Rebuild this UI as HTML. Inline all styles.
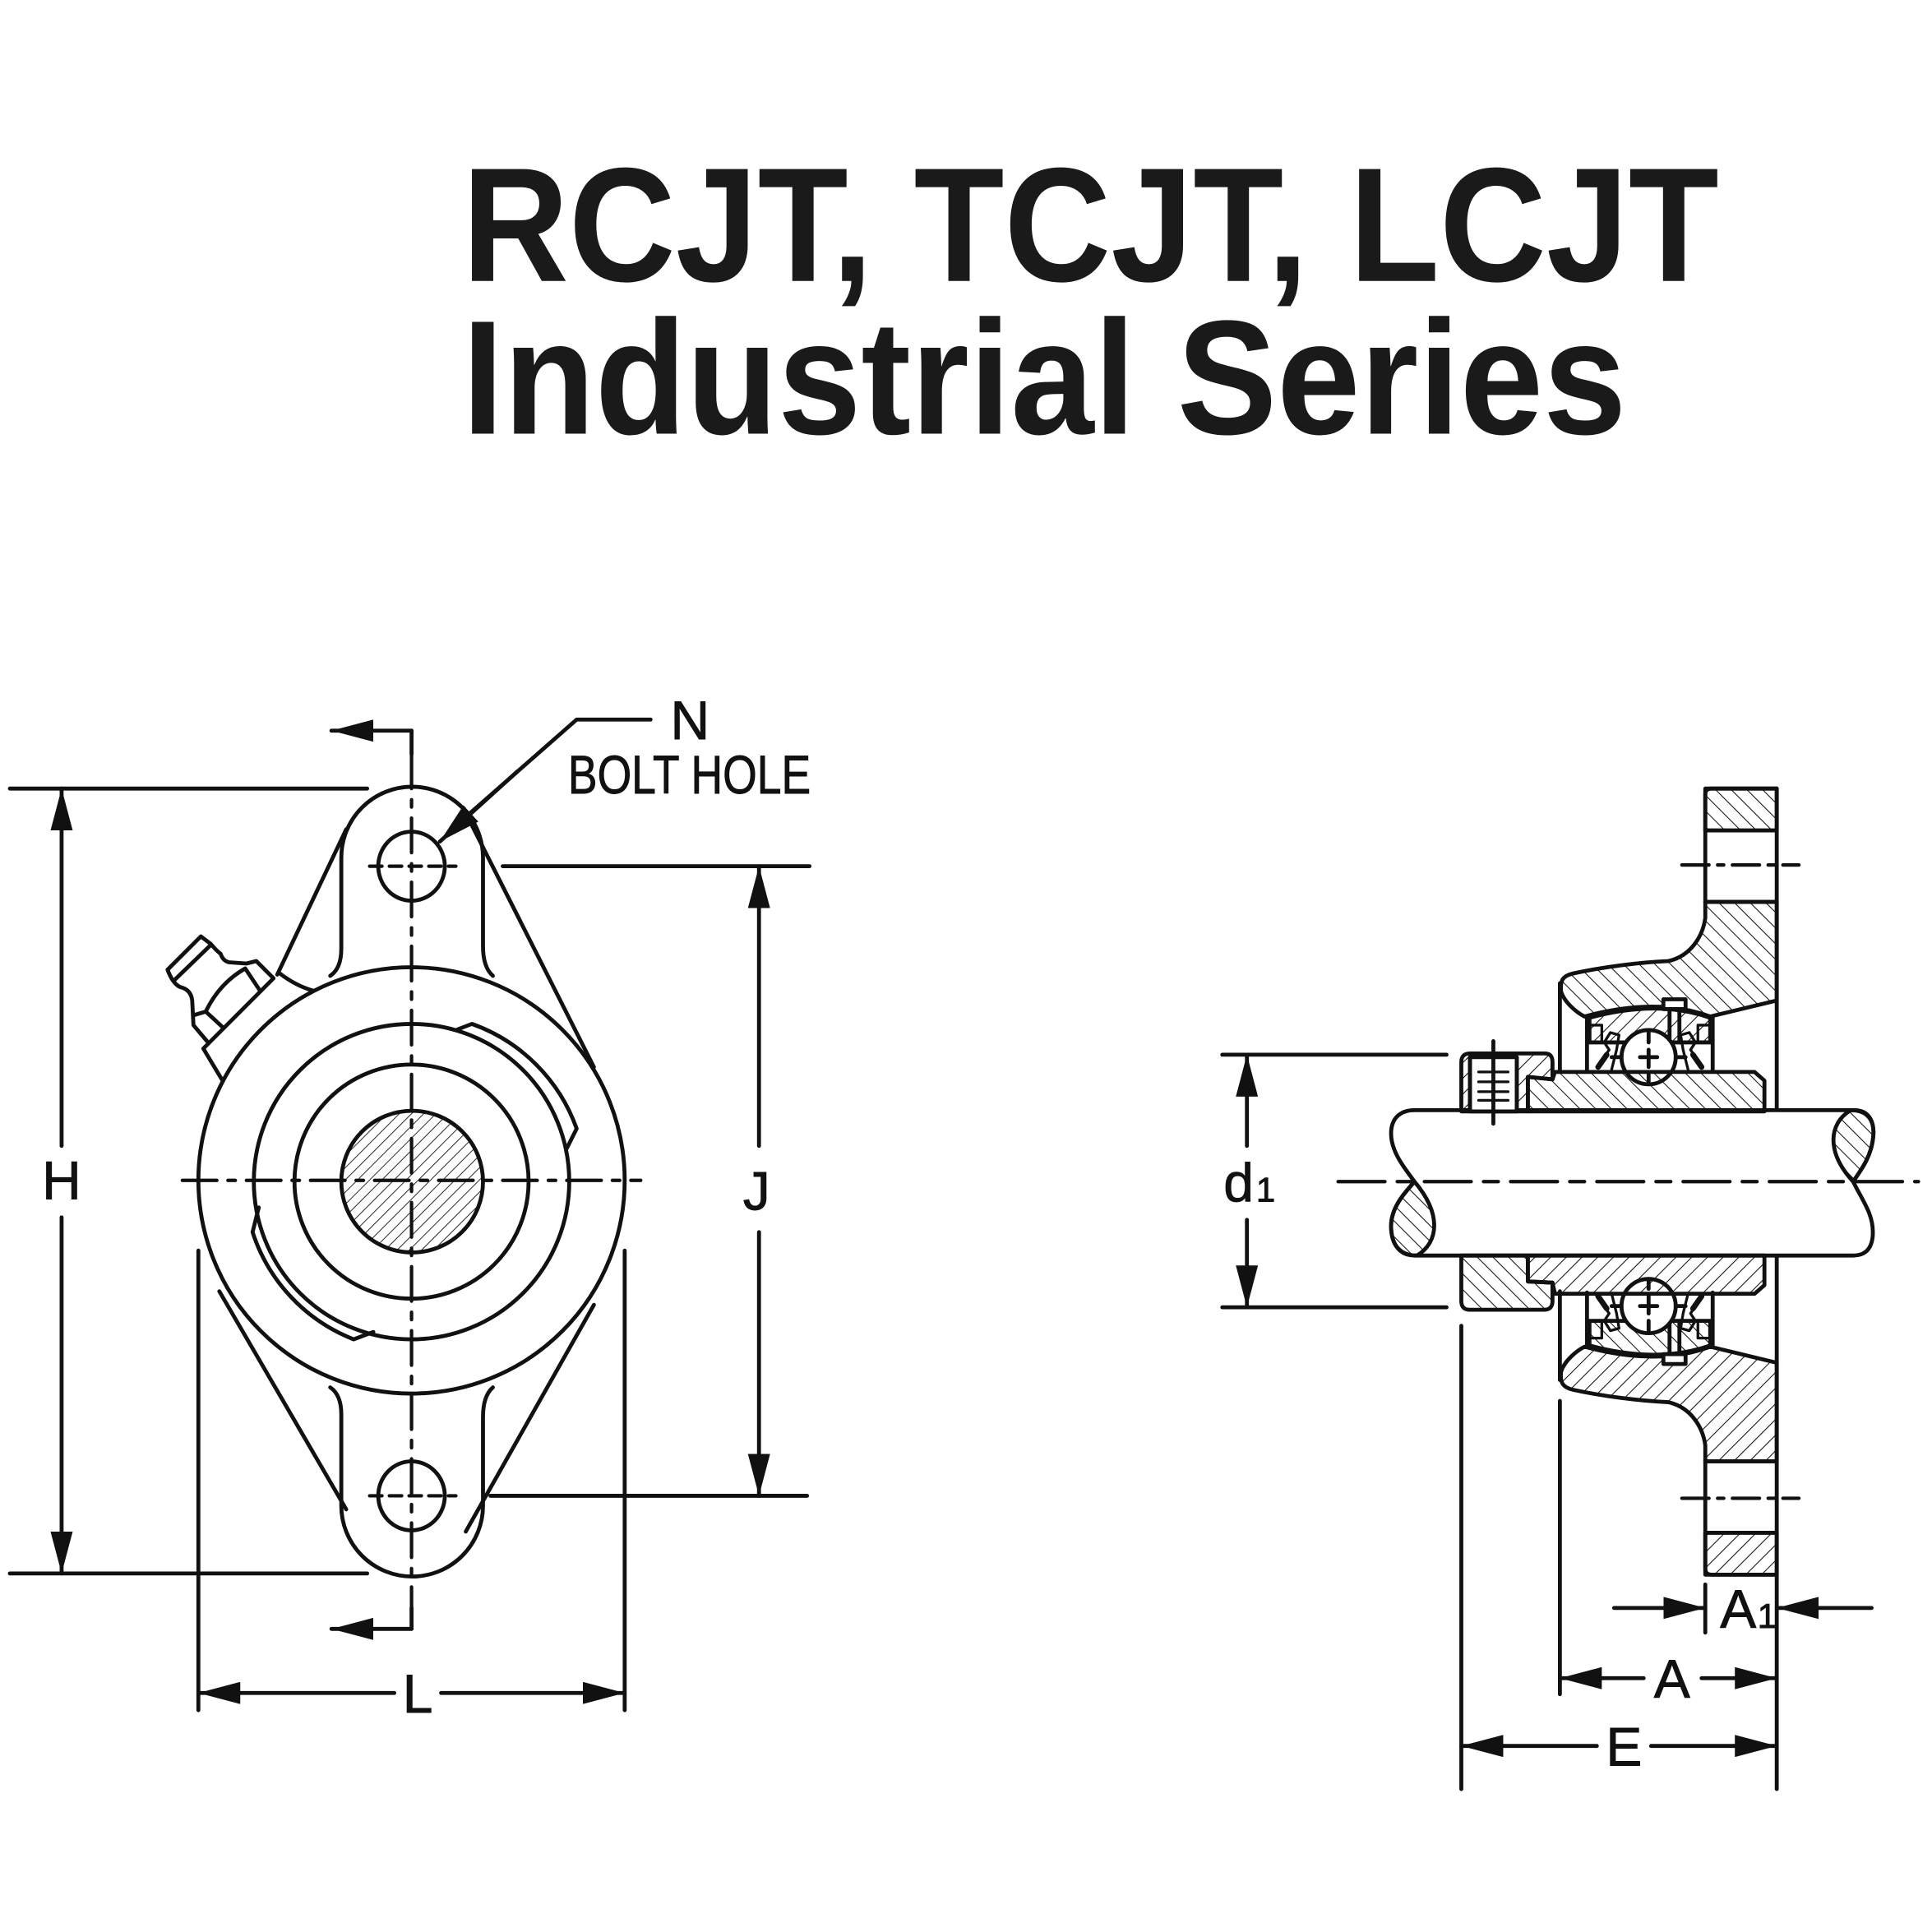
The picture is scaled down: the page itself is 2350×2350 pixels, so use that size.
<!DOCTYPE html>
<html><head><meta charset="utf-8"><style>html,body{margin:0;padding:0;background:#fff}svg{display:block}</style></head>
<body>
<svg xmlns="http://www.w3.org/2000/svg" width="2350" height="2350" viewBox="0 0 1568 1568">
<defs>
<pattern id="hb" width="9" height="9" patternUnits="userSpaceOnUse" patternTransform="rotate(-45)"><line x1="0" y1="0" x2="0" y2="9" stroke="#111" stroke-width="1.4"/></pattern>
<pattern id="hf" width="9" height="9" patternUnits="userSpaceOnUse" patternTransform="rotate(45)"><line x1="0" y1="0" x2="0" y2="9" stroke="#111" stroke-width="1.4"/></pattern>
<pattern id="hs" width="7" height="7" patternUnits="userSpaceOnUse" patternTransform="rotate(45)"><line x1="0" y1="0" x2="0" y2="7" stroke="#111" stroke-width="1.2"/></pattern>
<marker id="ar" viewBox="0 0 34 18" refX="34" refY="9" markerWidth="34" markerHeight="18" orient="auto-start-reverse" markerUnits="userSpaceOnUse"><path d="M0,0 L34,9 L0,18 Z" fill="#111"/></marker>
</defs>
<rect width="1568" height="1568" fill="#fff"/>
<g font-family="Liberation Sans, Arial, sans-serif" font-weight="bold" fill="#1a1a1a" font-size="132">
<text x="375" y="228" textLength="1020" lengthAdjust="spacingAndGlyphs">RCJT, TCJT, LCJT</text>
<text x="375" y="352" textLength="945" lengthAdjust="spacingAndGlyphs">Industrial Series</text>
</g>

<g stroke="#111" stroke-width="3.2" fill="none" stroke-linecap="round" stroke-linejoin="round">
<line x1="281" y1="673" x2="225" y2="791"/>
<line x1="376" y1="656" x2="482" y2="866"/>
<line x1="178" y1="1048" x2="281" y2="1225"/>
<line x1="482" y1="1059" x2="378" y2="1243"/>
<path d="M268,792 Q277,786 277,770 L277,696 A57.5,57.5 0 0 1 392,696 L392,768 Q392,785 400,792"/>
<path d="M268,1126 Q277,1132 277,1148 L277,1222 A57.5,57.5 0 0 0 392,1222 L392,1150 Q392,1133 400,1126"/>
<ellipse cx="334" cy="703" rx="27" ry="28"/>
<ellipse cx="334" cy="1214" rx="27" ry="28"/>
<circle cx="334" cy="958" r="173" fill="#fff"/>
<circle cx="334" cy="959" r="128"/>
<circle cx="334" cy="959" r="95"/>
<circle cx="334.5" cy="959" r="57.5" fill="url(#hs)"/>
<path d="M370,836 L383,831 A140,140 0 0 1 468,916 L460,932"/>
<path d="M210,980 L205,1000 A140,140 0 0 0 287,1087 L303,1081"/>
<path d="M136,787 L163,760 L171,766 Q176,772 179,774 Q181,780 186,781 L200,782 L208,780 L222,794 L165,851 L180,876"/>
<path d="M136,787 Q140,798 146,801 Q155,803 156,812 L157,832 L168,845"/>
<line x1="142" y1="795" x2="171" y2="767"/>
<path d="M157,824 L167,821 Q178,798 199,786 L211,804"/>
<line x1="167" y1="821" x2="180" y2="833"/>
<path d="M227,790 Q240,800 254,804"/>
<line x1="334" y1="593" x2="334" y2="612"/>
<line x1="334" y1="593" x2="269" y2="593" marker-end="url(#ar)"/>
<line x1="334" y1="1322" x2="334" y2="1305"/>
<line x1="334" y1="1322" x2="269" y2="1322" marker-end="url(#ar)"/>
<line x1="334" y1="612" x2="334" y2="1305" stroke-dasharray="28,9,6,9" stroke-width="2.8"/>
<line x1="148" y1="958" x2="520" y2="958" stroke-dasharray="28,9,6,9" stroke-width="2.8"/>
<line x1="300" y1="703" x2="370" y2="703" stroke-dasharray="10,6" stroke-width="2.8"/>
<line x1="300" y1="1214" x2="370" y2="1214" stroke-dasharray="10,6" stroke-width="2.8"/>
<line x1="8" y1="640" x2="298" y2="640"/>
<line x1="8" y1="1277" x2="298" y2="1277"/>
<line x1="50" y1="930" x2="50" y2="640" marker-end="url(#ar)"/>
<line x1="50" y1="988" x2="50" y2="1277" marker-end="url(#ar)"/>
<line x1="408" y1="703" x2="657" y2="703"/>
<line x1="398" y1="1214" x2="655" y2="1214"/>
<line x1="616" y1="930" x2="616" y2="703" marker-end="url(#ar)"/>
<line x1="616" y1="1000" x2="616" y2="1214" marker-end="url(#ar)"/>
<line x1="161" y1="1015" x2="161" y2="1388"/>
<line x1="507" y1="1015" x2="507" y2="1388"/>
<line x1="320" y1="1374" x2="161" y2="1374" marker-end="url(#ar)"/>
<line x1="358" y1="1374" x2="507" y2="1374" marker-end="url(#ar)"/>
<polyline points="528,584 468,584 370,670"/>
<line x1="420" y1="626" x2="357" y2="683" marker-end="url(#ar)"/>

<g id="half">
<rect x="1384" y="640" width="58" height="34" fill="url(#hb)"/>
<line x1="1384" y1="674" x2="1442" y2="674"/>
<line x1="1384" y1="732" x2="1442" y2="732"/>
<path d="M1384,732 L1384,745 C1382,760 1372,776 1354,780 C1330,781 1300,785 1277,790 C1268,792 1266,796 1267,805 C1270,814 1280,822 1286,825 Q1345,809 1388,825 L1442,812 L1442,732 Z" fill="url(#hb)"/>
<path d="M1384,732 L1384,645 Q1384,640 1389,640 L1442,640"/>
<path d="M1290,826 Q1345,811 1388,826 L1388,846 L1290,846 Z" fill="url(#hf)"/>
<line x1="1288" y1="825" x2="1288" y2="869"/>
<line x1="1390" y1="825" x2="1390" y2="869"/>
<rect x="1350" y="811" width="18" height="8" fill="#fff"/>
<line x1="1355" y1="819" x2="1355" y2="846"/>
<line x1="1363" y1="819" x2="1363" y2="846"/>
<path d="M1296,866 L1306,852 L1302,846 L1307,838 L1314,840 L1312,852 L1308,868" stroke-width="2.2"/>
<path d="M1292,832 L1300,832 L1300,846" stroke-width="2.2"/>
<path d="M1382,866 L1372,852 L1376,846 L1371,838 L1364,840 L1366,852 L1370,868" stroke-width="2.2"/>
<path d="M1386,832 L1378,832 L1378,846" stroke-width="2.2"/>
<path d="M1297,866 L1304,856" stroke-width="4.5"/>
<path d="M1381,866 L1374,856" stroke-width="4.5"/>
<circle cx="1338" cy="858" r="22" fill="#fff"/>
<line x1="1338" y1="838" x2="1338" y2="846"/><line x1="1338" y1="852" x2="1338" y2="866"/><line x1="1338" y1="872" x2="1338" y2="880"/>
<line x1="1331" y1="858" x2="1345" y2="858"/>
<line x1="1308" y1="858" x2="1316" y2="858"/><line x1="1360" y1="858" x2="1368" y2="858"/>
<line x1="1266" y1="798" x2="1266" y2="870"/>
<line x1="1365" y1="702" x2="1460" y2="702" stroke-dasharray="22,7,5,7" stroke-width="2.8"/>
</g>
<use href="#half" transform="matrix(1 0 0 -1 0 1918)"/>
<line x1="1442" y1="640" x2="1442" y2="1278"/>

<path d="M1148,901 L1505,901 C1518,901 1522,912 1520,925 C1518,940 1510,950 1504,959 C1512,975 1520,985 1520,1000 C1520,1012 1515,1019 1504,1019 L1148,1019 C1136,1019 1129,1010 1129,995 C1129,980 1140,968 1148,959 C1140,948 1129,935 1129,920 C1129,908 1136,901 1148,901 Z" fill="#fff"/>
<path d="M1504,959 C1510,950 1518,940 1520,925 C1522,912 1518,901 1502,901 C1484,912 1482,935 1504,959 Z" fill="url(#hb)"/>
<path d="M1148,959 C1140,968 1129,980 1129,995 C1129,1010 1136,1019 1150,1019 C1168,1008 1170,985 1148,959 Z" fill="url(#hb)"/>
<line x1="1086" y1="959" x2="1557" y2="959" stroke-dasharray="38,10,12,10" stroke-width="2.8"/>

<path d="M1240,902 L1240,874 L1260,876 L1262,870 L1424,870 L1432,877 L1432,902 Z" fill="url(#hb)"/>
<path d="M1186,902 L1186,862 Q1186,855 1193,855 L1254,855 Q1260,855 1260,862 L1260,876 L1240,874 L1240,902 Z" fill="url(#hf)"/>
<rect x="1193" y="858" width="38" height="44" fill="#fff"/>
<line x1="1193" y1="858" x2="1193" y2="902"/><line x1="1231" y1="858" x2="1231" y2="902"/>
<line x1="1200" y1="870" x2="1224" y2="870" stroke-width="2.2"/>
<line x1="1200" y1="878" x2="1224" y2="878" stroke-width="2.2"/>
<line x1="1200" y1="886" x2="1224" y2="886" stroke-width="2.2"/>
<line x1="1200" y1="893" x2="1224" y2="893" stroke-width="2.2"/>
<line x1="1212" y1="845" x2="1212" y2="912"/>
<path d="M1240,1019 L1432,1019 L1432,1043 L1424,1050 L1262,1050 L1260,1041 L1240,1040 Z" fill="url(#hf)"/>
<path d="M1186,1019 L1240,1019 L1240,1040 L1260,1041 L1260,1056 Q1260,1063 1253,1063 L1193,1063 Q1186,1063 1186,1056 Z" fill="url(#hb)"/>

<line x1="992" y1="856" x2="1174" y2="856"/>
<line x1="992" y1="1061" x2="1174" y2="1061"/>
<line x1="1012" y1="930" x2="1012" y2="856" marker-end="url(#ar)"/>
<line x1="1012" y1="990" x2="1012" y2="1061" marker-end="url(#ar)"/>
<line x1="1186" y1="1076" x2="1186" y2="1452"/>
<line x1="1266" y1="1137" x2="1266" y2="1375"/>
<line x1="1384" y1="1286" x2="1384" y2="1325"/>
<line x1="1442" y1="1278" x2="1442" y2="1452"/>
<line x1="1310" y1="1305" x2="1384" y2="1305" marker-end="url(#ar)"/>
<line x1="1519" y1="1305" x2="1442" y2="1305" marker-end="url(#ar)"/>
<line x1="1334" y1="1362" x2="1266" y2="1362" marker-end="url(#ar)"/>
<line x1="1381" y1="1362" x2="1442" y2="1362" marker-end="url(#ar)"/>
<line x1="1296" y1="1417" x2="1186" y2="1417" marker-end="url(#ar)"/>
<line x1="1340" y1="1417" x2="1442" y2="1417" marker-end="url(#ar)"/>
</g>

<g font-family="Liberation Sans, Arial, sans-serif" fill="#111" font-size="44" stroke="#111" stroke-width="0.6">
<text x="50" y="973" text-anchor="middle">H</text>
<text x="614" y="982" text-anchor="middle">J</text>
<text x="339" y="1390" text-anchor="middle">L</text>
<text x="560" y="600" text-anchor="middle">N</text>
<text x="461" y="644" textLength="197" lengthAdjust="spacingAndGlyphs">BOLT HOLE</text>
<text x="993" y="975">d<tspan font-size="28" dx="2">1</tspan></text>
<text x="1396" y="1321">A<tspan font-size="28" dx="1">1</tspan></text>
<text x="1357" y="1378" text-anchor="middle">A</text>
<text x="1318" y="1433" text-anchor="middle">E</text>
</g>
</svg>
</body></html>
